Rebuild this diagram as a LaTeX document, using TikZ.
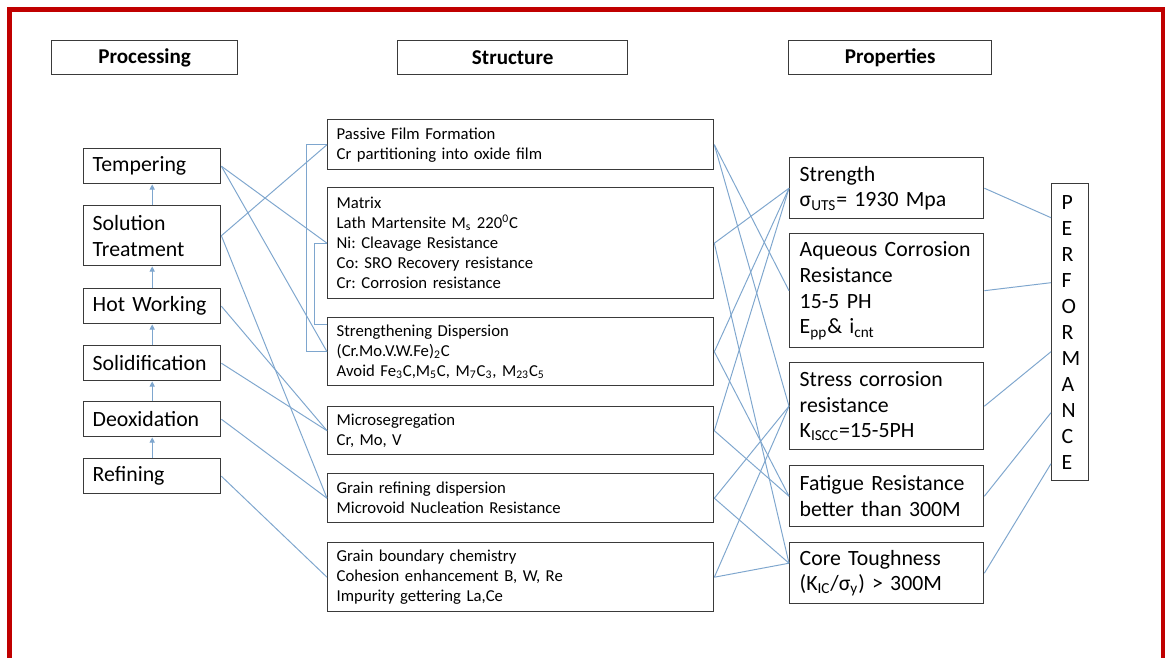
\documentclass[tikz,border=0pt]{standalone}
\usepackage{fontspec}
\setmainfont{Carlito}
\usetikzlibrary{arrows.meta,positioning}
\definecolor{frame}{HTML}{C00000}
\definecolor{link}{HTML}{7EA6CE}
\definecolor{edge}{HTML}{3A3A3A}
\frenchspacing

\begin{document}
\begin{tikzpicture}[x=0.02cm,y=-0.02cm,
  box/.style={draw=edge,line width=0.8pt,anchor=north west,align=left,inner xsep=0.18cm,inner ysep=0pt},
  proc/.style={box,text width=2.38cm,minimum height=#1,font=\fontsize{12.4}{14.6}\selectfont},
  strc/.style={box,text width=7.36cm,minimum height=#1,font=\fontsize{9.5}{11.4}\selectfont},
  prop/.style={box,inner xsep=0.2cm,text width=3.48cm,minimum height=#1,font=\fontsize{12.4}{14.6}\selectfont},
  head/.style={draw=edge,line width=0.8pt,anchor=north west,minimum width=#1,minimum height=0.68cm,font=\fontsize{12}{14}\selectfont\bfseries},
  wire/.style={draw=link,line width=0.55pt},
  flow/.style={wire,-{Triangle[length=3pt,width=3pt]}}]
  \useasboundingbox (0,0) rectangle (1166,657);
  \fill[white] (0,0) rectangle (1166,657);
  \draw[frame,line width=0.09cm] (9.5,9.5) rectangle (1163,720);

  \node[head=3.72cm] (hproc) at (51,40) {Processing};
  \node[head=4.6cm] (hstrc) at (397,40) {Structure};
  \node[head=4.06cm] (hprop) at (788,40) {Properties};

  \node[proc=0.7cm] (temp) at (83,148) {Tempering};
  \node[proc=1.2cm] (soln) at (83,205) {Solution\\Treatment};
  \node[proc=0.7cm] (hotw) at (83,288) {Hot Working};
  \node[proc=0.7cm] (solid) at (83,345) {Solidification};
  \node[proc=0.7cm] (deox) at (83,401) {Deoxidation};
  \node[proc=0.7cm] (refn) at (83,458) {Refining};

  \node[strc=1cm] (pff) at (327,119) {Passive Film Formation\\Cr partitioning into oxide film};
  \node[strc=2.22cm] (mat) at (327,187) {Matrix\\Lath Martensite M\textsubscript{s} 220\textsuperscript{0}C\\Ni: Cleavage Resistance\\Co: SRO Recovery resistance\\Cr: Corrosion resistance};
  \node[strc=1.36cm] (strd) at (327,317) {Strengthening Dispersion\\(Cr.Mo.V.W.Fe)\textsubscript{2}C\\Avoid Fe\textsubscript{3}C,M\textsubscript{5}C, M\textsubscript{7}C\textsubscript{3}, M\textsubscript{23}C\textsubscript{5}};
  \node[strc=0.96cm] (mseg) at (327,406) {Microsegregation\\Cr, Mo, V};
  \node[strc=0.98cm] (grd) at (327,473) {Grain refining dispersion\\Microvoid Nucleation Resistance};
  \node[strc=1.38cm] (gbc) at (327,542) {Grain boundary chemistry\\Cohesion enhancement B, W, Re\\Impurity gettering La,Ce};

  \node[prop=1.22cm] (strg) at (789,157) {Strength\\σ\textsubscript{UTS}= 1930 Mpa};
  \node[prop=2.28cm] (aqcr) at (789,233) {Aqueous Corrosion\\Resistance\\15-5 PH\\E\textsubscript{pp}\& i\textsubscript{cnt}};
  \node[prop=1.74cm] (sccr) at (789,362) {Stress corrosion\\resistance\\K\textsubscript{ISCC}=15-5PH};
  \node[prop=1.22cm] (fatg) at (789,465) {Fatigue Resistance\\better than 300M};
  \node[prop=1.22cm] (ctgh) at (789,542) {Core Toughness\\(K\textsubscript{IC}/σ\textsubscript{y}) > 300M};

  \node[box,inner xsep=0.2cm,text width=0.34cm,minimum height=5.94cm,font=\fontsize{12.4}{14.8}\selectfont] (perf) at (1051,183) {P\\E\\R\\F\\O\\R\\M\\A\\N\\C\\E};

  \foreach \a/\b in {soln/temp,hotw/soln,solid/hotw,deox/solid,refn/deox}
    \draw[flow] (\a) -- (\b);

  \foreach \a/\b in {temp/mat,temp/strd,soln/pff,soln/grd,hotw/mseg,solid/mseg,deox/grd,refn/gbc}
    \draw[wire] (\a.east) -- (\b.west);
  \draw[wire] (pff.west) -- ++(-21,0) |- (strd.west);
  \draw[wire] (mat.west) -- ++(-13,0) |- ([yshift=-0.14cm]strd.north west);

  \coordinate (ctin) at ([yshift=0.2cm]ctgh.west);
  \foreach \a/\b in {pff/aqcr,pff/sccr,mat/strg,strd/strg,strd/fatg,mseg/strg,mseg/fatg,grd/sccr,gbc/sccr}
    \draw[wire] (\a.east) -- (\b.west);
  \foreach \a in {mat,grd,gbc}
    \draw[wire] (\a.east) -- (ctin);

  \draw[wire] (strg.east) -- ([yshift=2.29cm]perf.west);
  \draw[wire] (aqcr.east) -- ([yshift=0.99cm]perf.west);
  \draw[wire] (sccr.east) -- ([yshift=-0.39cm]perf.west);
  \draw[wire] (fatg.east) -- ([yshift=-1.61cm]perf.west);
  \draw[wire] (ctgh.east) -- ([yshift=-2.63cm]perf.west);
\end{tikzpicture}
\end{document}
